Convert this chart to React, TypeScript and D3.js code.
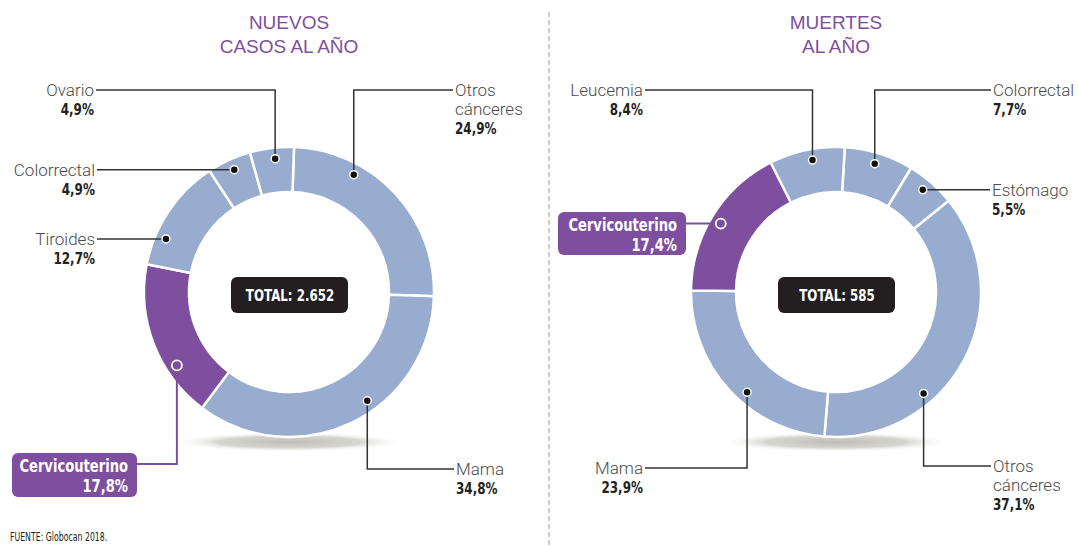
import React, { useEffect } from "react";
import * as d3 from "d3";

// ---------- DATA ----------
const casesLabels = ["Otros cánceres", "Mama", "Cervicouterino", "Tiroides", "Colorrectal", "Ovario"];
const casesValues = [24.9, 34.8, 17.8, 12.7, 4.9, 4.9];
const deathsLabels = ["Colorrectal", "Estómago", "Otros cánceres", "Mama", "Cervicouterino", "Leucemia"];
const deathsValues = [7.7, 5.5, 37.1, 23.9, 17.4, 8.4];
const highlighted = "Cervicouterino";
const casesTitle = ["NUEVOS", "CASOS AL AÑO"];
const deathsTitle = ["MUERTES", "AL AÑO"];
const casesTotal = "TOTAL: 2.652";
const deathsTotal = "TOTAL: 585";
const source = "FUENTE: Globocan 2018.";

// ---------- STYLE / LAYOUT ----------
const W = 1079;
const H = 546;
const BLUE = "#97acce";
const PURPLE = "#7e4f9e";
const DARK = "#231f20";
const LINE = "#333";
const NAME_FONT = "Roboto, 'Liberation Sans', sans-serif";
const BOLD_FONT = "'DejaVu Sans', sans-serif";

type LabelLayout = {
  t: number; // position of the marker inside the slice (0..1)
  lineY?: number; // y of horizontal leader (undefined => flat, uses dot y)
  endX: number;
  side: "left" | "right";
  box?: { x: number; y: number; w: number; h: number };
};

const casesLayout: LabelLayout[] = [
  { t: 0.3, lineY: 90, endX: 453, side: "right" },
  { t: 0.42, lineY: 469, endX: 454, side: "right" },
  { t: 0.31, lineY: 464, endX: 137, side: "left", box: { x: 12, y: 453, w: 125, h: 44 } },
  { t: 0.27, endX: 97, side: "left" },
  { t: 0.52, endX: 97, side: "left" },
  { t: 0.55, lineY: 90, endX: 96, side: "left" },
];

const deathsLayout: LabelLayout[] = [
  { t: 0.48, lineY: 90, endX: 991, side: "right" },
  { t: 0.46, endX: 990, side: "right" },
  { t: 0.66, lineY: 466, endX: 991, side: "right" },
  { t: 0.43, lineY: 468, endX: 645, side: "left" },
  { t: 0.48, endX: 686, side: "left", box: { x: 558, y: 212, w: 128, h: 43 } },
  { t: 0.55, lineY: 90, endX: 645, side: "left" },
];

const fmt = (v: number) => v.toFixed(1).replace(".", ",") + "%";

type DonutProps = {
  cx: number;
  cy: number;
  labels: string[];
  values: number[];
  layout: LabelLayout[];
  title: string[];
  total: string;
  offsetDeg: number;
  gid: string;
};

function Donut({ cx, cy, labels, values, layout, title, total, offsetDeg, gid }: DonutProps) {
  const outerR = 145;
  const innerR = 100;
  const dotR = 134;
  const off = (offsetDeg * Math.PI) / 180;
  const pie = d3
    .pie<number>()
    .sort(null)
    .value((d) => d)
    .startAngle(off)
    .endAngle(off + 2 * Math.PI);
  const arcs = pie(values);
  const arc = d3.arc<d3.PieArcDatum<number>>().innerRadius(innerR).outerRadius(outerR);

  return (
    <g>
      <defs>
        <radialGradient id={gid} cx="50%" cy="50%" r="50%">
          <stop offset="0%" stopColor="#bdbdb5" />
          <stop offset="60%" stopColor="#d6d6d0" />
          <stop offset="100%" stopColor="#ffffff" stopOpacity={0} />
        </radialGradient>
      </defs>
      {/* title */}
      {title.map((t, i) => (
        <text
          key={i}
          x={cx}
          y={29 + i * 24}
          textAnchor="middle"
          fontFamily="'Liberation Sans', Arial, sans-serif"
          fontSize={19}
          fill={PURPLE}
        >
          {t}
        </text>
      ))}
      {/* shadow */}
      <ellipse cx={cx} cy={cy + 150} rx={118} ry={10} fill={`url(#${gid})`} />
      {/* slices */}
      <g transform={`translate(${cx},${cy})`}>
        {arcs.map((a, i) => (
          <path
            key={i}
            d={arc(a) || ""}
            fill={labels[i] === highlighted ? PURPLE : BLUE}
            stroke="#fff"
            strokeWidth={2.5}
          />
        ))}
      </g>
      {/* total box */}
      <rect x={cx - 58} y={cy - 15} width={117} height={36} rx={6} fill={DARK} />
      <text
        transform={`translate(${cx + 1},${cy + 9}) scale(0.74,1)`}
        textAnchor="middle"
        fontFamily={BOLD_FONT}
        fontWeight="bold"
        fontSize={16}
        fill="#fff"
      >
        {total}
      </text>
      {/* labels */}
      {arcs.map((a, i) => {
        const L = layout[i];
        const ang = a.startAngle + L.t * (a.endAngle - a.startAngle);
        const dx = cx + dotR * Math.sin(ang);
        const dy = cy - dotR * Math.cos(ang);
        const ly = L.lineY === undefined ? dy : L.lineY;
        const hl = labels[i] === highlighted;
        const pts: [number, number][] = [
          [dx, dy],
          [dx, ly],
          [L.endX, ly],
        ];
        const lineGen = d3.line();
        const anchor = L.side === "left" ? "end" : "start";
        const tx = L.side === "left" ? L.endX - 2 : L.endX + 2;
        const nameLines = labels[i] === "Otros cánceres" ? ["Otros", "cánceres"] : [labels[i]];
        return (
          <g key={i}>
            <path
              d={lineGen(pts) || ""}
              fill="none"
              stroke={hl ? PURPLE : LINE}
              strokeWidth={hl ? 2 : 1.5}
            />
            {hl ? (
              <circle cx={dx} cy={dy} r={5} fill={PURPLE} stroke="#fff" strokeWidth={1.8} />
            ) : (
              <circle cx={dx} cy={dy} r={4} fill="#111" stroke="#fff" strokeWidth={1.5} />
            )}
            {hl && L.box ? (
              <g>
                <rect x={L.box.x} y={L.box.y} width={L.box.w} height={L.box.h} rx={6} fill={PURPLE} />
                <text
                  transform={`translate(${L.box.x + L.box.w - 9},${L.box.y + 19}) scale(0.75,1)`}
                  textAnchor="end"
                  fontFamily={BOLD_FONT}
                  fontWeight="bold"
                  fontSize={17.5}
                  fill="#fff"
                >
                  {labels[i]}
                </text>
                <text
                  transform={`translate(${L.box.x + L.box.w - 9},${L.box.y + 39}) scale(0.75,1)`}
                  textAnchor="end"
                  fontFamily={BOLD_FONT}
                  fontWeight="bold"
                  fontSize={17.5}
                  fill="#fff"
                >
                  {fmt(values[i])}
                </text>
              </g>
            ) : (
              <g>
                {nameLines.map((n, j) => (
                  <text
                    key={j}
                    x={tx}
                    y={ly + 6 + j * 19}
                    textAnchor={anchor}
                    fontFamily={NAME_FONT}
                    fontWeight={300}
                    fontSize={17}
                    fill="#4a4a4a"
                  >
                    {n}
                  </text>
                ))}
                <text
                  transform={`translate(${tx},${ly + 6 + nameLines.length * 19}) scale(0.8,1)`}
                  textAnchor={anchor}
                  fontFamily={BOLD_FONT}
                  fontWeight="bold"
                  fontSize={15}
                  fill="#222"
                >
                  {fmt(values[i])}
                </text>
              </g>
            )}
          </g>
        );
      })}
    </g>
  );
}

export default function App() {
  useEffect(() => {
    document.body.style.margin = "0";
  }, []);
  return (
    <svg
      width={W}
      height={H}
      viewBox={`0 0 ${W} ${H}`}
      style={{ position: "absolute", left: 0, top: 0, background: "#fff" }}
    >
      <rect x={0} y={0} width={W} height={H} fill="#fff" />
      <line x1={549} x2={549} y1={12} y2={H} stroke="#999" strokeWidth={1} strokeDasharray="5,3" />
      <Donut
        cx={289}
        cy={292}
        labels={casesLabels}
        values={casesValues}
        layout={casesLayout}
        title={casesTitle}
        total={casesTotal}
        offsetDeg={2}
        gid="shadowL"
      />
      <Donut
        cx={836}
        cy={292}
        labels={deathsLabels}
        values={deathsValues}
        layout={deathsLayout}
        title={deathsTitle}
        total={deathsTotal}
        offsetDeg={3.5}
        gid="shadowR"
      />
      <text
        transform={`translate(10,541) scale(0.6,1)`}
        fontFamily={BOLD_FONT}
        fontSize={13}
        fill="#222"
      >
        {source}
      </text>
    </svg>
  );
}
